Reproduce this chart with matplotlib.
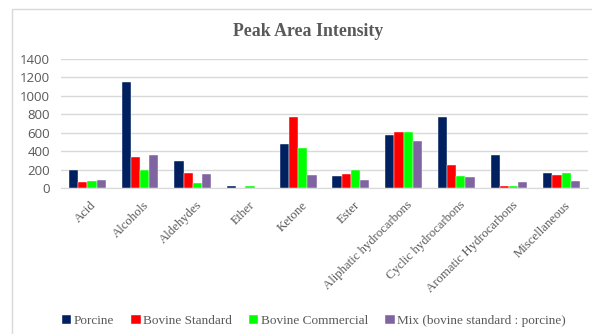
import matplotlib
matplotlib.use("Agg")
import matplotlib.pyplot as plt
import matplotlib.transforms as mtransforms
import numpy as np
from matplotlib.patches import Rectangle

categories = ["Acid", "Alcohols", "Aldehydes", "Ether", "Ketone", "Ester",
              "Aliphatic hydrocarbons", "Cyclic hydrocarbons",
              "Aromatic Hydrocarbons", "Miscellaneous"]
porcine = [195, 1150, 290, 20, 475, 135, 570, 770, 352, 160]
bovine_standard = [68, 338, 160, 0, 770, 155, 608, 252, 25, 140]
bovine_commercial = [75, 198, 58, 20, 432, 198, 608, 130, 25, 162]
mix = [82, 353, 155, 0, 144, 90, 510, 115, 68, 76]
series_names = ["Porcine", "Bovine Standard", "Bovine Commercial",
                "Mix (bovine standard : porcine)"]
y_ticks = [0, 200, 400, 600, 800, 1000, 1200, 1400]

colors = ["#002060", "#FF0000", "#00FF00", "#8064A2"]
serif = "Liberation Serif"
text_gray = "#595959"

fig = plt.figure(figsize=(5.92, 3.34), dpi=100)
fig.patch.set_facecolor("white")

# chart-area frame
fig.patches.append(Rectangle((12 / 592, -0.05), 1.0, 1 - 9 / 334 + 0.05,
                             transform=fig.transFigure, fill=False,
                             edgecolor="#D9D9D9", linewidth=1.0))

ax = fig.add_axes([61 / 592, 1 - 188 / 334, (588 - 61) / 592, (188 - 58.7) / 334])
x = np.arange(len(categories))
w = 0.175
for i, (vals, c, name) in enumerate(zip([porcine, bovine_standard, bovine_commercial, mix],
                                        colors, series_names)):
    ax.bar(x + (i - 1.5) * w, vals, width=w, color=c, label=name,
           edgecolor="white", linewidth=0.3, zorder=3)

ax.set_xlim(-0.5, len(categories) - 0.5)
ax.set_ylim(0, 1400)
ax.set_yticks(y_ticks)
ax.set_yticklabels([str(v) for v in y_ticks], fontsize=9.5, color=text_gray,
                   family="Open Sans")
ax.yaxis.grid(True, color="#D9D9D9", linewidth=1.0, zorder=0)
ax.tick_params(axis="y", length=0, pad=8)
ax.tick_params(axis="x", length=0, pad=8)
ax.set_xticks(x)
ax.set_xticklabels(categories, rotation=45, ha="right", rotation_mode="anchor",
                   fontsize=9.2, family=serif, color=text_gray)
shift = mtransforms.ScaledTranslation(3 / 100, 0, fig.dpi_scale_trans)
for lbl in ax.get_xticklabels():
    lbl.set_transform(lbl.get_transform() + shift)
for s in ["top", "right", "left"]:
    ax.spines[s].set_visible(False)
ax.spines["bottom"].set_color("#D9D9D9")

fig.text(308 / 592, 1 - 32 / 334, "Peak Area Intensity", ha="center", va="center",
         fontsize=12.8, fontweight="bold", family=serif, color=text_gray)

fig.legend(loc="center", bbox_to_anchor=(314 / 592, 1 - 321 / 334), ncol=4,
           frameon=False, prop={"family": serif, "size": 9.5},
           handlelength=0.7, handleheight=0.7, handletextpad=0.2,
           columnspacing=1.3, labelcolor=text_gray)

fig.savefig("out.png", dpi=100, facecolor="white")
